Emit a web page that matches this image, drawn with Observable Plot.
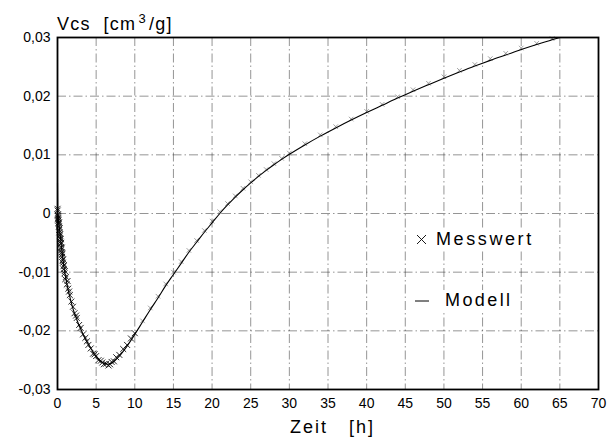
<!DOCTYPE html>
<html>
<head>
<meta charset="utf-8">
<script src="https://cdn.jsdelivr.net/npm/d3@7"></script>
<script src="https://cdn.jsdelivr.net/npm/@observablehq/plot@0.6"></script>
<style>
  html, body { margin: 0; padding: 0; background: #fff; }
  #wrap { position: relative; width: 610px; height: 445px; font-family: "Liberation Sans", Arial, sans-serif; }
</style>
</head>
<body>
<div id="wrap"></div>
<script>
// Model curve (Modell)
const modelT = [0, 0.03, 0.2, 0.5, 0.8, 1.0, 1.5, 2, 2.5, 3, 3.5, 4, 4.5, 5, 5.5, 6, 6.5, 7, 8, 9, 10, 11, 12, 13, 14, 15, 16, 17, 18, 19, 20, 21, 22, 23, 24, 25, 26, 27, 28, 29, 30, 32, 34, 36, 38, 40, 42, 44, 45, 46, 48, 50, 52, 54, 55, 56, 58, 60, 62, 64, 65];
const modelV = [0.0053, 0, -0.002, -0.0055, -0.0088, -0.0105, -0.0137, -0.0162, -0.0181, -0.0197, -0.0211, -0.0223, -0.0234, -0.0244, -0.0251, -0.0255, -0.0257, -0.0255, -0.0243, -0.0226, -0.0206, -0.0185, -0.0164, -0.0144, -0.0123, -0.0104, -0.0085, -0.0066, -0.0049, -0.0032, -0.0016, 0, 0.00145, 0.0028, 0.00405, 0.00522, 0.00632, 0.00735, 0.00831, 0.00922, 0.01009, 0.01169, 0.01319, 0.01459, 0.01593, 0.01721, 0.01844, 0.01967, 0.02026, 0.02084, 0.02196, 0.02306, 0.02411, 0.02513, 0.02562, 0.0261, 0.02702, 0.02794, 0.0288, 0.02962, 0.03];

// Measured values (Messwert), dense early part
const messT1 = [0.01, 0.02, 0.04, 0.05, 0.07, 0.08, 0.1, 0.12, 0.14, 0.15, 0.18, 0.2, 0.22, 0.25, 0.28, 0.3, 0.33, 0.35, 0.38, 0.4, 0.43, 0.45, 0.48, 0.5, 0.53, 0.55, 0.58, 0.6, 0.63, 0.66, 0.7, 0.73, 0.76, 0.8, 0.85, 0.9, 0.95, 1.0, 1.1, 1.2, 1.3, 1.4, 1.5, 1.6, 1.8, 2.0, 2.2, 2.4, 2.5, 2.8, 3.0, 3.3, 3.6, 3.8, 4.0, 4.3, 4.6, 4.8, 5.0, 5.3, 5.6, 5.8, 6.0, 6.3, 6.6, 6.8, 7.0, 7.3, 7.6, 8.0, 8.5, 9.0, 9.5, 10.0];
const messV1 = [0.0008, 0.0005, -0.0004, -0.0002, -0.001, -0.0008, -0.0012, -0.0006, -0.0016, -0.0018, -0.0022, -0.0015, -0.0028, -0.0032, -0.0025, -0.0038, -0.0042, -0.0035, -0.0048, -0.0044, -0.0052, -0.0058, -0.005, -0.0062, -0.0066, -0.0058, -0.007, -0.0074, -0.0068, -0.008, -0.0084, -0.0078, -0.009, -0.0095, -0.0088, -0.0102, -0.0098, -0.0112, -0.0108, -0.0121, -0.0115, -0.0128, -0.0133, -0.0139, -0.0150, -0.0159, -0.0170, -0.0174, -0.0178, -0.0190, -0.0195, -0.0206, -0.0212, -0.0218, -0.0224, -0.0230, -0.0239, -0.0240, -0.0243, -0.0250, -0.0251, -0.0254, -0.0257, -0.0256, -0.0259, -0.0257, -0.0253, -0.0252, -0.0245, -0.0241, -0.0231, -0.0224, -0.0213, -0.0204];

// Measured values, later (faint)
const messT2 = [11, 12, 13, 14, 15, 16, 17, 18, 19, 20, 21, 22, 23, 24, 25, 26, 27, 28, 29, 30, 32, 34, 36, 38, 40, 42, 44, 46, 48, 50, 52, 54, 56, 58, 60, 62, 64];
const messV2 = [-0.0183, -0.0161, -0.0141, -0.0120, -0.0100, -0.0082, -0.0063, -0.0046, -0.0029, -0.0013, 0.0003, 0.0017, 0.0030, 0.0043, 0.0054, 0.0065, 0.0075, 0.0085, 0.0094, 0.0103, 0.0119, 0.0134, 0.0148, 0.0161, 0.0174, 0.0186, 0.0199, 0.0211, 0.0222, 0.0233, 0.0244, 0.0254, 0.0264, 0.0273, 0.0282, 0.0290, 0.0298];

const xTicks = [0, 5, 10, 15, 20, 25, 30, 35, 40, 45, 50, 55, 60, 65, 70];
const yTicks = [-0.03, -0.02, -0.01, 0, 0.01, 0.02, 0.03];
const yTickLabels = ["-0,03", "-0,02", "-0,01", "0", "0,01", "0,02", "0,03"];
const xGrid = [5, 10, 15, 20, 25, 30, 35, 40, 45, 50, 55, 60, 65];
const yGrid = [-0.02, -0.01, 0, 0.01, 0.02];

const model = modelT.map((t, i) => ({t, v: modelV[i]}));
const mess1 = messT1.map((t, i) => ({t, v: messV1[i]}));
const mess2 = messT2.map((t, i) => ({t, v: messV2[i]}));

const gridStyle = {stroke: "#333", strokeWidth: 0.7, strokeDasharray: "9,3,1.5,3", strokeOpacity: 0.75};
const yFmt = d => yTickLabels[yTicks.findIndex(y => Math.abs(y - d) < 1e-9)];

const chart = Plot.plot({
  width: 610,
  height: 445,
  marginLeft: 57,
  marginRight: 12,
  marginTop: 37,
  marginBottom: 56,
  style: {fontFamily: "'Liberation Sans', Arial, sans-serif", fontSize: "14px", color: "#000", background: "#fff"},
  x: {domain: [0, 70], label: null},
  y: {domain: [-0.03, 0.03], label: null},
  marks: [
    Plot.ruleX(xGrid, gridStyle),
    Plot.ruleY(yGrid, gridStyle),
    Plot.dot(mess2, {x: "t", y: "v", symbol: "times", r: 2.2, stroke: "#777", strokeWidth: 0.7}),
    Plot.dot(mess1, {x: "t", y: "v", symbol: "times", r: 2.8, stroke: "#111", strokeWidth: 0.9}),
    Plot.line(model, {x: "t", y: "v", stroke: "#000", strokeWidth: 1.1, curve: "monotone-x"}),
    Plot.frame({stroke: "#000", strokeWidth: 1.8}),
    Plot.axisX({ticks: xTicks, tickSize: 0, tickPadding: 9, fontSize: 14, letterSpacing: 1}),
    Plot.axisY({ticks: yTicks, tickSize: 0, tickPadding: 7, fontSize: 14, letterSpacing: 1, tickFormat: yFmt})
  ]
});
const wrap = document.getElementById("wrap");
wrap.appendChild(chart);

function addText(html, left, top, size, extra) {
  const d = document.createElement("div");
  d.style.position = "absolute";
  d.style.left = left + "px";
  d.style.top = top + "px";
  d.style.fontSize = size + "px";
  d.style.letterSpacing = "1.5px";
  d.style.whiteSpace = "pre";
  d.style.lineHeight = "1";
  if (extra) Object.assign(d.style, extra);
  d.innerHTML = html;
  wrap.appendChild(d);
  return d;
}
// y-axis title
addText('Vcs&nbsp;&nbsp;[cm<sup style="font-size:13px;vertical-align:7px;margin:0 2px">3</sup>/g]', 57, 12, 18, {letterSpacing: "1.3px"});
// x-axis title
addText('Zeit&nbsp;&nbsp;&nbsp;[h]', 290, 418, 18, {letterSpacing: "2px"});
// legend
addText('<svg width="12" height="12" style="vertical-align:middle;margin-right:8px"><path d="M1,1L10,10M10,1L1,10" stroke="#000" stroke-width="0.9"/></svg>Messwert', 414, 229, 18, {background: "#fff", padding: "1px 2px", letterSpacing: "2.6px"});
addText('<svg width="14" height="4" style="vertical-align:middle;margin-right:16px"><path d="M0,2H14" stroke="#000" stroke-width="1"/></svg>Modell', 413, 290, 18, {background: "#fff", padding: "1px 2px", letterSpacing: "2.4px"});
</script>
</body>
</html>
